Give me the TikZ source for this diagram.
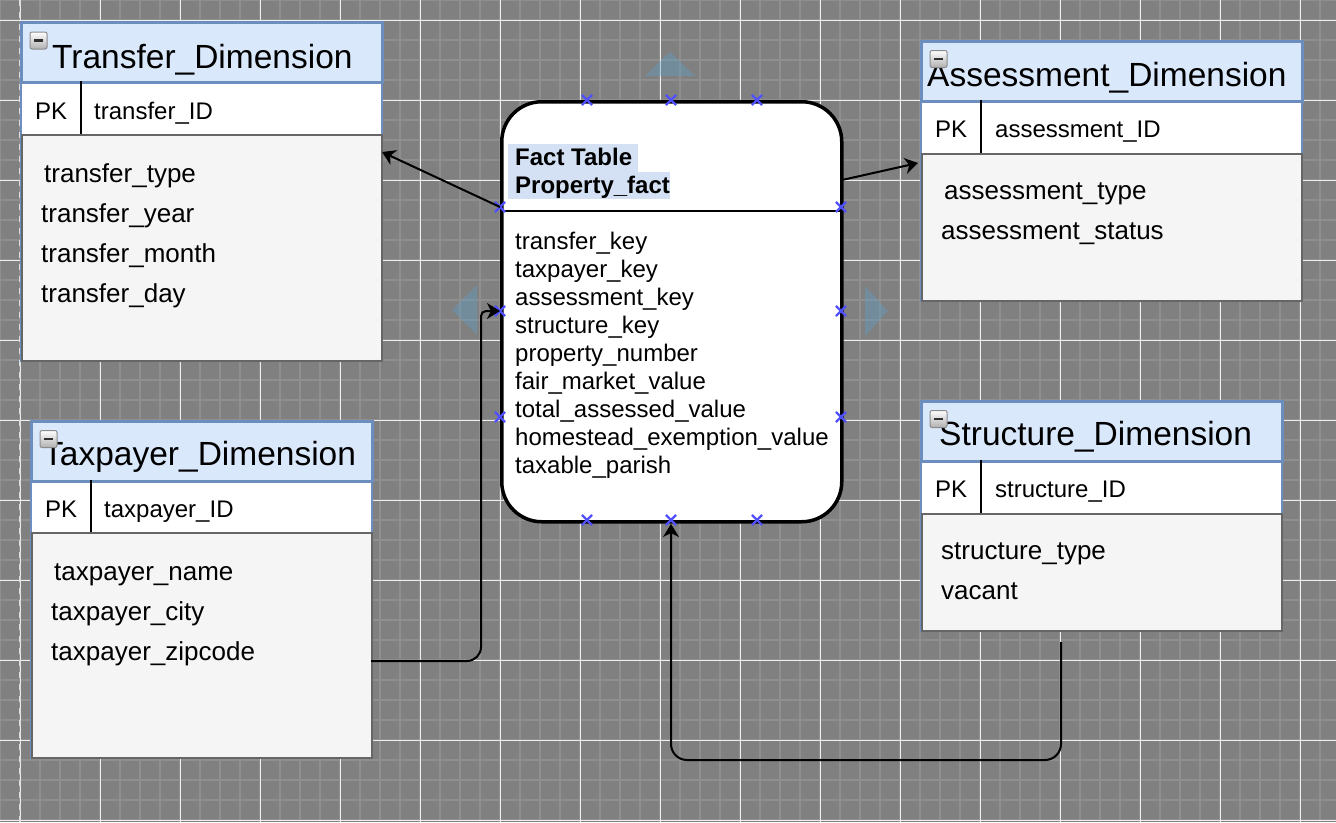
\documentclass[tikz,border=0pt]{standalone}
\usepackage{fontspec}
\setmainfont{Liberation Sans}
\usetikzlibrary{arrows.meta,shapes.misc}
\definecolor{gridbg}{HTML}{808080}
\definecolor{gridminor}{HTML}{8F8F8F}
\definecolor{gridmajor}{HTML}{EEEEEE}
\definecolor{hdrfill}{HTML}{DAE8FC}
\definecolor{hdrborder}{HTML}{6C8EBF}
\definecolor{bodyfill}{HTML}{F5F5F5}
\definecolor{bodyborder}{HTML}{666666}
\definecolor{hlfill}{HTML}{D4E1F5}
\definecolor{markblue}{HTML}{5050FF}
\definecolor{ghostblue}{RGB}{95,160,200}
\definecolor{iconborder}{HTML}{8C8C8C}
\definecolor{iconshade}{HTML}{B0B0B0}
\definecolor{iconbar}{HTML}{303030}
\begin{document}
\begin{tikzpicture}[x=1pt,y=-1pt,
  minor/.style={draw=gridminor,line width=2pt},
  major/.style={draw=gridmajor,line width=1pt},
  frame/.style={draw=hdrborder,fill=white,line width=2pt,inner sep=0pt,anchor=north west},
  hdr/.style={draw=hdrborder,fill=hdrfill,line width=2.5pt,inner sep=0pt,anchor=north west},
  bodybox/.style={draw=bodyborder,fill=bodyfill,line width=2pt,inner sep=0pt,anchor=north west},
  pkline/.style={draw=black,line width=2pt},
  title/.style={anchor=base west,inner sep=0pt,font=\fontsize{33.5}{38}\selectfont},
  attr/.style={anchor=base west,inner sep=0pt,font=\fontsize{26}{30}\selectfont},
  pk/.style={anchor=base west,inner sep=0pt,font=\fontsize{24}{28}\selectfont},
  fld/.style={anchor=base west,inner sep=0pt,font=\fontsize{24}{28}\selectfont},
  fldb/.style={anchor=base west,inner sep=0pt,font=\fontsize{24}{28}\selectfont\bfseries},
  facttab/.style={draw=black,fill=white,line width=3.5pt,rounded corners=40pt,inner sep=0pt,anchor=north west},
  xmark/.style={cross out,draw=markblue,line width=2.2pt,minimum size=8pt,inner sep=0pt},
  conn/.style={draw=black,line width=2pt,-{Stealth[length=13pt,width=16pt,inset=4pt]}},
  ghost/.style={fill=ghostblue,fill opacity=0.4},
  icon/.style={draw=iconborder,line width=1pt,rounded corners=2pt,top color=white,bottom color=iconshade,
    minimum size=17pt,inner sep=0pt,
    path picture={\draw[iconbar,line width=2.5pt] ([xshift=4pt]path picture bounding box.west) -- ([xshift=-4pt]path picture bounding box.east);}}
]
\useasboundingbox (0,0) rectangle (1336,822);
% ---------- background grid ----------
\fill[gridbg] (0,0) rectangle (1336,822);
\foreach \x in {0,20,...,1320} \draw[minor] (\x,0) -- (\x,822);
\foreach \y in {0,20,...,820} \draw[minor] (0,\y) -- (1336,\y);
\foreach \x in {20,100,...,1300} \draw[major] (\x,0) -- (\x,822);
\foreach \y in {20,100,...,820} \draw[major] (0,\y) -- (1336,\y);
\draw[draw=white!75!gray,line width=1.5pt,dash pattern=on 6pt off 6pt] (20,0) -- (20,822);

% ---------- hover triangles ----------
\fill[ghost] (645,76) -- (695,76) -- (670,52) -- cycle;
\fill[ghost] (452,310) -- (477,285) -- (477,335) -- cycle;
\fill[ghost] (888,311) -- (865,286) -- (865,336) -- cycle;

% ---------- Transfer_Dimension ----------
\node[frame,minimum width=361pt,minimum height=339pt] (tr) at (20,21) {};
\node[hdr,minimum width=361pt,minimum height=60pt] (trH) at (20,21) {};
\node[bodybox,minimum width=360pt,minimum height=226pt] (trB) at (21,134) {};
\draw[pkline] (81,81) -- (81,134);
\node[icon] (trI) at (38.5,40.5) {};
\node[title] (trT) at (52,68) {Transfer\_Dimension};
\node[pk] (trPK) at (35,119) {PK};
\node[pk] (trID) at (94,119) {transfer\_ID};
\node[attr] (tr1) at (44,182) {transfer\_type};
\node[attr] (tr2) at (41,222) {transfer\_year};
\node[attr] (tr3) at (41,262) {transfer\_month};
\node[attr] (tr4) at (41,302) {transfer\_day};

% ---------- Taxpayer_Dimension ----------
\node[frame,minimum width=341pt,minimum height=337pt] (tp) at (30,420) {};
\node[hdr,minimum width=341pt,minimum height=60pt] (tpH) at (30,420) {};
\node[bodybox,minimum width=340pt,minimum height=225pt] (tpB) at (31,532) {};
\draw[pkline] (91,480) -- (91,532);
\node[title] (tpT) at (43,465) {Taxpayer\_Dimension};
\node[icon] (tpI) at (48.5,439) {};
\node[pk] (tpPK) at (45,517) {PK};
\node[pk] (tpID) at (104,517) {taxpayer\_ID};
\node[attr] (tp1) at (54,580) {taxpayer\_name};
\node[attr] (tp2) at (51,620) {taxpayer\_city};
\node[attr] (tp3) at (51,660) {taxpayer\_zipcode};

% ---------- Assessment_Dimension ----------
\node[frame,minimum width=381pt,minimum height=260pt] (as) at (920,40) {};
\node[hdr,minimum width=381pt,minimum height=60pt] (asH) at (920,40) {};
\node[bodybox,minimum width=380pt,minimum height=147pt] (asB) at (921,153) {};
\draw[pkline] (981,100) -- (981,153);
\node[title] (asT) at (927,86) {Assessment\_Dimension};
\node[icon] (asI) at (938.5,59) {};
\node[pk] (asPK) at (935,137) {PK};
\node[pk] (asID) at (995,137) {assessment\_ID};
\node[attr] (as1) at (944,199) {assessment\_type};
\node[attr] (as2) at (941,239) {assessment\_status};

% ---------- Structure_Dimension ----------
\node[frame,minimum width=361pt,minimum height=230pt] (st) at (920,400) {};
\node[hdr,minimum width=361pt,minimum height=60pt] (stH) at (920,400) {};
\node[bodybox,minimum width=360pt,minimum height=117pt] (stB) at (921,513) {};
\draw[pkline] (981,460) -- (981,513);
\node[title] (stT) at (939,445) {Structure\_Dimension};
\node[icon] (stI) at (938.5,419) {};
\node[pk] (stPK) at (935,497) {PK};
\node[pk] (stID) at (995,497) {structure\_ID};
\node[attr] (st1) at (941,559) {structure\_type};
\node[attr] (st2) at (941,599) {vacant};

% ---------- Fact table ----------
\node[facttab,minimum width=340pt,minimum height=420pt] (fact) at (500,100) {};
\draw[line width=2pt] (500,211) -- (840,211);
\fill[hlfill] (508,144) rectangle (638,172);
\fill[hlfill] (508,172) rectangle (670,199);
\node[fldb] (fT1) at (515,165) {Fact Table};
\node[fldb] (fT2) at (515,193) {Property\_fact};
\node[fld] (f1) at (515,249) {transfer\_key};
\node[fld] (f2) at (515,277) {taxpayer\_key};
\node[fld] (f3) at (515,305) {assessment\_key};
\node[fld] (f4) at (515,333) {structure\_key};
\node[fld] (f5) at (515,361) {property\_number};
\node[fld] (f6) at (515,389) {fair\_market\_value};
\node[fld] (f7) at (515,417) {total\_assessed\_value};
\node[fld] (f8) at (515,445) {homestead\_exemption\_value};
\node[fld] (f9) at (515,473) {taxable\_parish};

% connection point markers
\node[xmark] (mT1) at (587,100) {};
\node[xmark] (mT2) at (671,100) {};
\node[xmark] (mT3) at (757,100) {};
\node[xmark] (mL1) at (500,207) {};
\node[xmark] (mL2) at (500,311) {};
\node[xmark] (mL3) at (500,417) {};
\node[xmark] (mR1) at (841,207) {};
\node[xmark] (mR2) at (841,311) {};
\node[xmark] (mR3) at (841,417) {};
\node[xmark] (mB1) at (587,520) {};
\node[xmark] (mB2) at (671,520) {};
\node[xmark] (mB3) at (757,520) {};

% ---------- connectors ----------
\coordinate (trIn) at (382,152);
\coordinate (fOutR) at (842,180);
\coordinate (asIn) at (918,163);
\coordinate (tpOut) at (371,661);
\coordinate (stOut) at (1061,642);
\coordinate (fIn) at (671,524);
\draw[conn] (mL1.center) -- (trIn);
\draw[conn] (fOutR) -- (asIn);
\draw[conn,rounded corners=14pt] (tpOut) -- (481,661) [rounded corners=5pt] -- (481,311) -- (mL2.center);
\draw[conn,rounded corners=16pt] (stOut) -- (1061,760) -- (671,760) -- (fIn);
\end{tikzpicture}
\end{document}
